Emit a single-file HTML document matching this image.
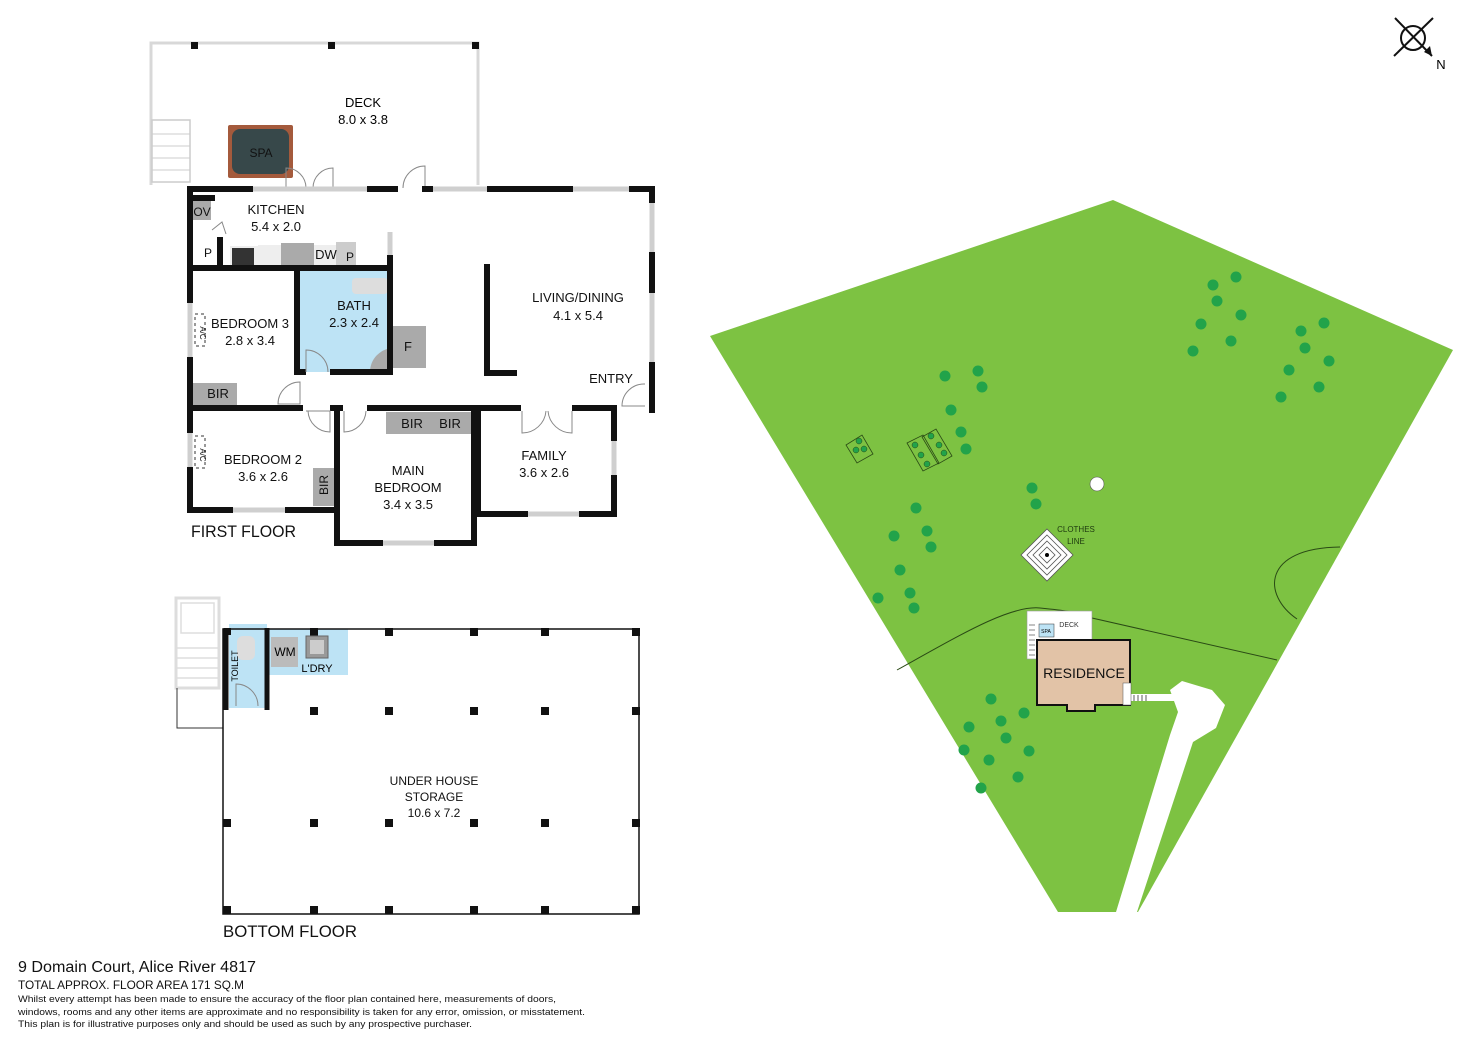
<!DOCTYPE html>
<html><head><meta charset="utf-8"><style>
html,body{margin:0;padding:0;background:#fff;}
svg{display:block;font-family:"Liberation Sans",sans-serif;}
</style></head><body>
<svg width="1472" height="1041" viewBox="0 0 1472 1041" xmlns="http://www.w3.org/2000/svg">
<rect width="1472" height="1041" fill="#fff"/>

<!-- ===== SITE PLAN ===== -->
<polygon points="710,336 1113,200 1453,350 1138,912 1058,912" fill="#7dc242"/>
<path d="M897,670 C960,635 1010,605 1040,608 C1060,610 1080,612 1092,618 L1277,660" fill="none" stroke="#2a4a15" stroke-width="1"/>
<path d="M1297,619 C1262,595 1262,548 1340,547" fill="none" stroke="#2a4a15" stroke-width="1"/>
<polygon points="1116,912 1137,912 1193,742 1216,728 1225,705 1212,690 1182,681 1170,690 1178,712 1170,735" fill="#fff"/>
<rect x="1130" y="694" width="44" height="7" fill="#fff"/>
<g fill="none" stroke="#333" stroke-width="0.8"><line x1="1134" y1="695" x2="1134" y2="701"/><line x1="1138" y1="695" x2="1138" y2="701"/><line x1="1142" y1="695" x2="1142" y2="701"/><line x1="1146" y1="695" x2="1146" y2="701"/></g>
<g fill="#22a34a">
<circle cx="1213" cy="285" r="5.5"/><circle cx="1236" cy="277" r="5.5"/><circle cx="1217" cy="301" r="5.5"/><circle cx="1241" cy="315" r="5.5"/><circle cx="1201" cy="324" r="5.5"/><circle cx="1231" cy="341" r="5.5"/><circle cx="1193" cy="351" r="5.5"/>
<circle cx="1301" cy="331" r="5.5"/><circle cx="1324" cy="323" r="5.5"/><circle cx="1305" cy="348" r="5.5"/><circle cx="1329" cy="361" r="5.5"/><circle cx="1289" cy="370" r="5.5"/><circle cx="1319" cy="387" r="5.5"/><circle cx="1281" cy="397" r="5.5"/>
<circle cx="945" cy="376" r="5.5"/><circle cx="978" cy="371" r="5.5"/><circle cx="982" cy="387" r="5.5"/><circle cx="951" cy="410" r="5.5"/><circle cx="961" cy="432" r="5.5"/><circle cx="966" cy="449" r="5.5"/>
<circle cx="1032" cy="488" r="5.5"/><circle cx="1036" cy="504" r="5.5"/>
<circle cx="916" cy="508" r="5.5"/><circle cx="927" cy="531" r="5.5"/><circle cx="894" cy="536" r="5.5"/><circle cx="931" cy="547" r="5.5"/><circle cx="900" cy="570" r="5.5"/><circle cx="910" cy="593" r="5.5"/><circle cx="878" cy="598" r="5.5"/><circle cx="914" cy="608" r="5.5"/>
<circle cx="991" cy="699" r="5.5"/><circle cx="1024" cy="713" r="5.5"/><circle cx="969" cy="727" r="5.5"/><circle cx="1001" cy="721" r="5.5"/><circle cx="1006" cy="738" r="5.5"/><circle cx="964" cy="750" r="5.5"/><circle cx="1029" cy="751" r="5.5"/><circle cx="989" cy="760" r="5.5"/><circle cx="1018" cy="777" r="5.5"/><circle cx="981" cy="788" r="5.5"/>
</g>
<g fill="none" stroke="#2a4a15" stroke-width="0.8">
<polygon points="846,445 862,435 873,454 857,463"/>
<polygon points="907,443 923,435 939,463 923,471"/>
<polygon points="922,437 936,429 952,456 938,464"/>
</g>
<g fill="#22a34a" stroke="#2a4a15" stroke-width="0.5">
<circle cx="859" cy="441" r="3"/><circle cx="856" cy="450" r="3"/><circle cx="864" cy="449" r="3"/>
<circle cx="915" cy="445" r="3"/><circle cx="921" cy="455" r="3"/><circle cx="927" cy="464" r="3"/>
<circle cx="931" cy="436" r="3"/><circle cx="939" cy="445" r="3"/><circle cx="944" cy="453" r="3"/>
</g>
<circle cx="1097" cy="484" r="7" fill="#fff" stroke="#555" stroke-width="0.6"/>
<g fill="#fff" stroke="#555" stroke-width="0.8">
<polygon points="1047,529 1073,555 1047,581 1021,555"/>
<polygon points="1047,535 1067,555 1047,575 1027,555"/>
<polygon points="1047,541 1061,555 1047,569 1033,555"/>
<polygon points="1047,547 1055,555 1047,563 1039,555"/>
</g>
<circle cx="1047" cy="555" r="2" fill="#000"/>
<text x="1076" y="532" font-size="8" fill="#1e3a10" text-anchor="middle">CLOTHES</text>
<text x="1076" y="544" font-size="8" fill="#1e3a10" text-anchor="middle">LINE</text>
<rect x="1027" y="611" width="65" height="48" fill="#fff" stroke="#999" stroke-width="0.6"/>
<g stroke="#333" stroke-width="0.6"><line x1="1029" y1="625" x2="1035" y2="625"/><line x1="1029" y1="630" x2="1035" y2="630"/><line x1="1029" y1="635" x2="1035" y2="635"/><line x1="1029" y1="640" x2="1035" y2="640"/><line x1="1029" y1="645" x2="1035" y2="645"/><line x1="1029" y1="650" x2="1035" y2="650"/><line x1="1029" y1="655" x2="1035" y2="655"/></g>
<rect x="1039" y="624" width="15" height="13" fill="#bde3f5" stroke="#333" stroke-width="0.5"/>
<text x="1046" y="633" font-size="5" text-anchor="middle">SPA</text>
<text x="1069" y="627" font-size="7" fill="#333" text-anchor="middle">DECK</text>
<polygon points="1037,640 1130,640 1130,705 1095,705 1095,711 1067,711 1067,705 1037,705" fill="#e2c3a7" stroke="#111" stroke-width="2"/>
<rect x="1123" y="683" width="8" height="22" fill="#fff" stroke="#555" stroke-width="0.5"/>
<text x="1084" y="678" font-size="14" text-anchor="middle" fill="#111">RESIDENCE</text>
<g stroke="#111" stroke-width="2" fill="none">
<circle cx="1413" cy="38" r="12"/>
<line x1="1395" y1="18" x2="1432" y2="56"/>
<line x1="1433" y1="18" x2="1394" y2="56"/>
</g>
<polygon points="1432,56 1424,52 1430,46" fill="#111"/>
<text x="1441" y="69" font-size="13" text-anchor="middle">N</text>

<!-- ===== FIRST FLOOR ===== -->
<g stroke="#d8d8d8" stroke-width="3" fill="none">
<polyline points="151,185 151,43 478,43 478,185"/>
</g>
<rect x="191" y="42" width="7" height="7" fill="#111"/><rect x="328" y="42" width="7" height="7" fill="#111"/><rect x="472" y="42" width="7" height="7" fill="#111"/>
<rect x="152" y="120" width="38" height="62" fill="#fff" stroke="#ccc" stroke-width="1.5"/>
<g stroke="#ccc" stroke-width="1"><line x1="152" y1="134" x2="190" y2="134"/><line x1="152" y1="146" x2="190" y2="146"/><line x1="152" y1="158" x2="190" y2="158"/><line x1="152" y1="170" x2="190" y2="170"/></g>
<rect x="228" y="125" width="65" height="53" fill="#a45a3c" rx="2"/>
<rect x="232" y="129" width="57" height="45" fill="#37484a" rx="8"/>
<text x="261" y="157" font-size="12" text-anchor="middle" fill="#111">SPA</text>
<text x="363" y="107" font-size="13" text-anchor="middle">DECK</text>
<text x="363" y="124" font-size="13" text-anchor="middle">8.0 x 3.8</text>
<g stroke="#888" stroke-width="1" fill="none">
<path d="M286,188 L286,168 A20,20 0 0 1 306,188"/><path d="M333,188 L333,168 A20,20 0 0 0 313,188"/>
<path d="M425,188 L425,166 A22,22 0 0 0 403,188"/>
</g>
<rect x="297" y="271" width="93" height="101" fill="#bde3f5"/>
<rect x="229" y="624" width="38" height="84" fill="#bde3f5"/>
<rect x="268" y="629" width="80" height="46" fill="#bde3f5"/>
<g fill="#aaaaaa">
<rect x="193" y="200" width="18" height="20"/>
<rect x="193" y="383" width="44" height="22"/>
<rect x="386" y="412" width="87" height="22"/>
<rect x="313" y="468" width="22" height="38"/>
<rect x="391" y="326" width="35" height="42"/>
<rect x="281" y="243" width="33" height="24"/>
<rect x="336" y="242" width="20" height="25" fill="#ccc"/>
</g>
<rect x="230" y="246" width="28" height="20" fill="#eee"/>
<rect x="232" y="248" width="22" height="18" fill="#333"/>
<rect x="258" y="245" width="23" height="22" fill="#eee"/>
<rect x="314" y="245" width="22" height="22" fill="#eee"/>
<path d="M393,348 L393,372 L370,372 A24,24 0 0 1 393,348Z" fill="#aaa"/>
<rect x="352" y="278" width="36" height="16" fill="#ddd" rx="4"/>
<g stroke="#cfcfcf" stroke-width="5">
<line x1="252" y1="189" x2="370" y2="189"/><line x1="430" y1="189" x2="490" y2="189"/><line x1="570" y1="189" x2="632" y2="189"/>
<line x1="652" y1="200" x2="652" y2="255"/><line x1="652" y1="290" x2="652" y2="365"/>
<line x1="190" y1="300" x2="190" y2="360"/><line x1="190" y1="430" x2="190" y2="470"/>
<line x1="230" y1="510" x2="288" y2="510"/><line x1="380" y1="543" x2="437" y2="543"/><line x1="525" y1="514" x2="582" y2="514"/>
<line x1="614" y1="438" x2="614" y2="478"/>
<line x1="390" y1="232" x2="390" y2="258"/>
</g>
<g stroke="#111" stroke-width="6" fill="none" stroke-linecap="square">
<line x1="190" y1="189" x2="250" y2="189"/><line x1="370" y1="189" x2="395" y2="189"/><line x1="425" y1="189" x2="430" y2="189"/><line x1="490" y1="189" x2="570" y2="189"/><line x1="632" y1="189" x2="652" y2="189"/>
<line x1="652" y1="189" x2="652" y2="200"/><line x1="652" y1="255" x2="652" y2="290"/><line x1="652" y1="365" x2="652" y2="410"/>
<line x1="190" y1="189" x2="190" y2="300"/><line x1="190" y1="360" x2="190" y2="430"/><line x1="190" y1="470" x2="190" y2="510"/>
<line x1="190" y1="268" x2="390" y2="268"/><line x1="220" y1="240" x2="220" y2="268"/>
<line x1="390" y1="258" x2="390" y2="372"/><line x1="297" y1="272" x2="297" y2="372"/>
<line x1="297" y1="372" x2="303" y2="372"/><line x1="333" y1="372" x2="390" y2="372"/>
<line x1="487" y1="267" x2="487" y2="373"/><line x1="487" y1="373" x2="514" y2="373"/>
<line x1="190" y1="408" x2="300" y2="408"/><line x1="333" y1="408" x2="340" y2="408"/><line x1="370" y1="408" x2="518" y2="408"/><line x1="575" y1="408" x2="612" y2="408"/>
<line x1="337" y1="408" x2="337" y2="543"/><line x1="474" y1="408" x2="474" y2="543"/>
<line x1="337" y1="543" x2="380" y2="543"/><line x1="437" y1="543" x2="474" y2="543"/>
<line x1="190" y1="510" x2="230" y2="510"/><line x1="288" y1="510" x2="337" y2="510"/>
<line x1="614" y1="408" x2="614" y2="438"/><line x1="614" y1="478" x2="614" y2="514"/>
<line x1="478" y1="514" x2="525" y2="514"/><line x1="582" y1="514" x2="614" y2="514"/>
<line x1="478" y1="408" x2="478" y2="514"/>
<line x1="193" y1="198" x2="212" y2="198"/>
</g>
<g stroke="#888" stroke-width="1" fill="none">
<path d="M300,404 L278,404 A22,22 0 0 1 300,382Z"/>
<path d="M306,411 L330,411 L330,432 A22,22 0 0 1 308,411"/>
<path d="M344,411 L344,432 A22,22 0 0 0 366,411"/>
<path d="M522,411 L522,433 A24,24 0 0 0 546,411 M572,411 L572,433 A24,24 0 0 1 548,411"/>
<path d="M645,406 L622,406 A22,22 0 0 1 645,384"/>
<path d="M306,372 L306,350 A22,22 0 0 1 328,372"/>
<path d="M212,230 L222,222 L226,234"/>
</g>
<g stroke="#333" stroke-width="1" stroke-dasharray="3,3" fill="none">
<rect x="195" y="314" width="10" height="32"/><rect x="195" y="436" width="10" height="32"/>
</g>
<g font-size="13" fill="#111" text-anchor="middle">
<text x="276" y="214">KITCHEN</text><text x="276" y="231">5.4 x 2.0</text>
<text x="202" y="216" font-size="12">OV</text>
<text x="208" y="257" font-size="12">P</text>
<text x="326" y="259">DW</text><text x="350" y="261" font-size="12">P</text>
<text x="354" y="310">BATH</text><text x="354" y="327">2.3 x 2.4</text>
<text x="408" y="351">F</text>
<text x="250" y="328">BEDROOM 3</text><text x="250" y="345">2.8 x 3.4</text>
<text x="218" y="398">BIR</text>
<text x="578" y="302">LIVING/DINING</text><text x="578" y="320">4.1 x 5.4</text>
<text x="611" y="383">ENTRY</text>
<text x="412" y="428">BIR</text><text x="450" y="428">BIR</text>
<text x="263" y="464">BEDROOM 2</text><text x="263" y="481">3.6 x 2.6</text>
<text x="408" y="475">MAIN</text><text x="408" y="492">BEDROOM</text><text x="408" y="509">3.4 x 3.5</text>
<text x="544" y="460">FAMILY</text><text x="544" y="477">3.6 x 2.6</text>
<text x="203" y="330" font-size="8" transform="rotate(90 200 330)">A/C</text>
<text x="203" y="452" font-size="8" transform="rotate(90 200 452)">A/C</text>
<text x="330" y="487" font-size="12" transform="rotate(-90 328 487)">BIR</text>
</g>
<text x="191" y="537" font-size="17" fill="#111" textLength="105" lengthAdjust="spacingAndGlyphs">FIRST FLOOR</text>

<!-- ===== BOTTOM FLOOR ===== -->
<rect x="176" y="598" width="43" height="90" fill="#fff" stroke="#ddd" stroke-width="3"/>
<rect x="181" y="603" width="33" height="30" fill="#fff" stroke="#ddd" stroke-width="1.5"/>
<g stroke="#ddd" stroke-width="1.5"><line x1="177" y1="648" x2="218" y2="648"/><line x1="177" y1="658" x2="218" y2="658"/><line x1="177" y1="668" x2="218" y2="668"/><line x1="177" y1="678" x2="218" y2="678"/></g>
<polyline points="177,688 177,728 223,728" fill="none" stroke="#333" stroke-width="1"/>
<rect x="223" y="629" width="416" height="285" fill="none" stroke="#111" stroke-width="1.5"/>
<g fill="#111">
<rect x="224" y="628" width="7" height="7"/><rect x="310" y="628" width="8" height="8"/><rect x="385" y="628" width="8" height="8"/><rect x="470" y="628" width="8" height="8"/><rect x="541" y="628" width="8" height="8"/><rect x="632" y="628" width="8" height="8"/>
<rect x="310" y="707" width="8" height="8"/><rect x="385" y="707" width="8" height="8"/><rect x="470" y="707" width="8" height="8"/><rect x="541" y="707" width="8" height="8"/><rect x="632" y="707" width="8" height="8"/>
<rect x="223" y="819" width="8" height="8"/><rect x="310" y="819" width="8" height="8"/><rect x="385" y="819" width="8" height="8"/><rect x="470" y="819" width="8" height="8"/><rect x="541" y="819" width="8" height="8"/><rect x="632" y="819" width="8" height="8"/>
<rect x="223" y="906" width="8" height="8"/><rect x="310" y="906" width="8" height="8"/><rect x="385" y="906" width="8" height="8"/><rect x="470" y="906" width="8" height="8"/><rect x="541" y="906" width="8" height="8"/><rect x="632" y="906" width="8" height="8"/>
</g>
<g stroke="#111" stroke-width="5"><line x1="226" y1="628" x2="226" y2="710"/><line x1="267" y1="628" x2="267" y2="710"/></g>
<rect x="271" y="637" width="27" height="30" fill="#bbb"/><text x="285" y="656" font-size="12" text-anchor="middle">WM</text>
<rect x="306" y="636" width="22" height="22" fill="#999" stroke="#666"/><rect x="310" y="640" width="14" height="14" fill="#ccc"/>
<text x="317" y="672" font-size="11" text-anchor="middle">L'DRY</text>
<rect x="237" y="636" width="18" height="24" fill="#ddd" rx="6"/>
<path d="M236,706 L236,684 A22,22 0 0 1 258,706" fill="none" stroke="#888" stroke-width="1"/>
<text x="240" y="668" font-size="9" text-anchor="middle" transform="rotate(-90 238 668)">TOILET</text>
<g font-size="12" text-anchor="middle" fill="#111">
<text x="434" y="785">UNDER HOUSE</text><text x="434" y="801">STORAGE</text><text x="434" y="817">10.6 x 7.2</text>
</g>
<text x="223" y="937" font-size="17" fill="#111" textLength="134" lengthAdjust="spacingAndGlyphs">BOTTOM FLOOR</text>

<text x="18" y="972" font-size="15.5" fill="#111" textLength="238" lengthAdjust="spacingAndGlyphs">9 Domain Court, Alice River 4817</text>
<text x="18" y="989" font-size="12" fill="#111" textLength="226" lengthAdjust="spacingAndGlyphs">TOTAL APPROX. FLOOR AREA 171 SQ.M</text>
<text x="18" y="1002" font-size="9.5" fill="#111" textLength="538" lengthAdjust="spacingAndGlyphs">Whilst every attempt has been made to ensure the accuracy of the floor plan contained here, measurements of doors,</text>
<text x="18" y="1015" font-size="9.5" fill="#111" textLength="567" lengthAdjust="spacingAndGlyphs">windows, rooms and any other items are approximate and no responsibility is taken for any error, omission, or misstatement.</text>
<text x="18" y="1027" font-size="9.5" fill="#111" textLength="454" lengthAdjust="spacingAndGlyphs">This plan is for illustrative purposes only and should be used as such by any prospective purchaser.</text>
</svg>
</body></html>
